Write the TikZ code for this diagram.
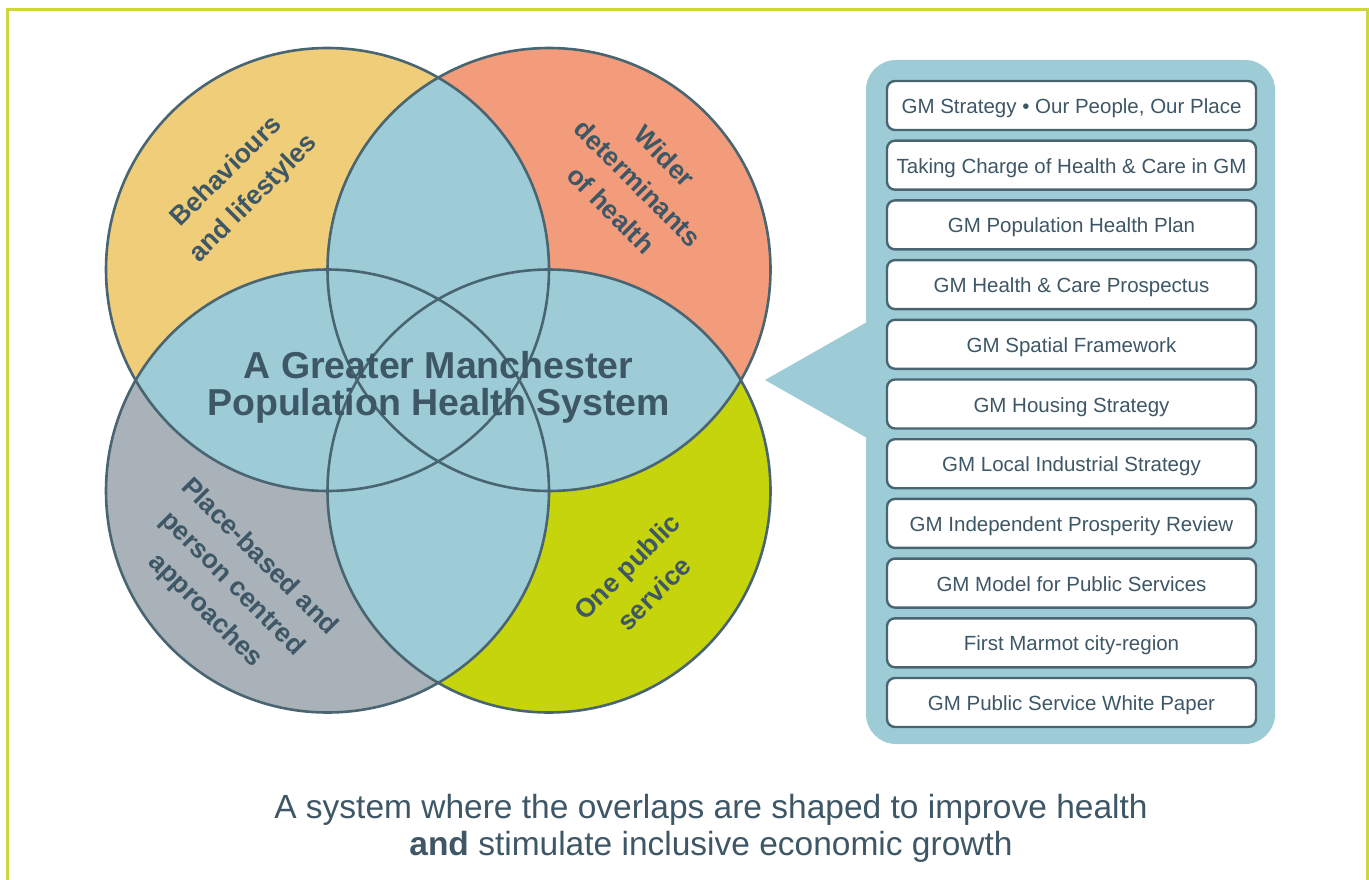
\documentclass[tikz,border=0pt]{standalone}
\usepackage{fontspec}
\setmainfont{Liberation Sans}
\definecolor{cyel}{HTML}{F0CD78}
\definecolor{corg}{HTML}{F29C7B}
\definecolor{cgry}{HTML}{AAB2B9}
\definecolor{cgrn}{HTML}{C6D40C}
\definecolor{cblu}{HTML}{9DCCD6}
\definecolor{cline}{HTML}{4A6572}
\definecolor{ctext}{HTML}{3E5766}
\definecolor{cframe}{HTML}{CDD63C}
\begin{document}
\begin{tikzpicture}[x=1pt,y=-1pt,
  venn/.style={draw=cline, line width=2.6pt},
  lbl/.style={text=ctext, font=\bfseries\fontsize{26.5}{38}\selectfont, align=center, inner sep=0pt},
  gmbox/.style={draw=cline, line width=2.4pt, fill=white, rounded corners=8pt,
    minimum width=369pt, minimum height=49pt, inner sep=0pt, text=ctext,
    font=\fontsize{20.5}{24}\selectfont, text height=20pt, text depth=4pt},
]
\useasboundingbox (0,0) rectangle (1369,880);
% frame
\draw[cframe, line width=3pt] (7,890) -- (7,9.5) -- (1367,9.5) -- (1367,890);
% circles
\coordinate (cA) at (327.5,269.5);
\coordinate (cB) at (549,269.5);
\coordinate (cC) at (327.5,491);
\coordinate (cD) at (549,491);
\def\R{221.5}
\fill[cyel] (cA) circle[radius=\R];
\fill[corg] (cB) circle[radius=\R];
\fill[cgry] (cC) circle[radius=\R];
\fill[cgrn] (cD) circle[radius=\R];
\begin{scope}
  \clip (cA) circle[radius=\R];
  \fill[cblu] (cB) circle[radius=\R];
  \fill[cblu] (cC) circle[radius=\R];
  \fill[cblu] (cD) circle[radius=\R];
\end{scope}
\begin{scope}
  \clip (cB) circle[radius=\R];
  \fill[cblu] (cC) circle[radius=\R];
  \fill[cblu] (cD) circle[radius=\R];
\end{scope}
\begin{scope}
  \clip (cC) circle[radius=\R];
  \fill[cblu] (cD) circle[radius=\R];
\end{scope}
\draw[venn] (cA) circle[radius=\R];
\draw[venn] (cB) circle[radius=\R];
\draw[venn] (cC) circle[radius=\R];
\draw[venn] (cD) circle[radius=\R];
% labels
\node[lbl, rotate=45] (lbeh) at (240.5,185.5) {Behaviours\\and lifestyles};
\node[lbl, rotate=-45] (lwid) at (638,183) {Wider\\determinants\\of health};
\node[lbl, rotate=-45] (lpla) at (232,584) {Place-based and\\person centred\\approaches};
\node[lbl, rotate=45] (lone) at (640.5,580) {One public\\service};
\node[text=ctext, font=\bfseries\fontsize{37.5}{37}\selectfont, align=center, inner sep=0pt] (title) at (438.5,387) {A Greater Manchester\\Population Health System};
% panel
\fill[cblu, rounded corners=30pt] (866,60) rectangle (1275,744);
\fill[cblu] (867,322) -- (765,380) -- (867,438) -- cycle;
\node[gmbox] (b1) at (1071.5,105.5) {GM Strategy • Our People, Our Place};
\node[gmbox] (b2) at (1071.5,165.2) {Taking Charge of Health \& Care in GM};
\node[gmbox] (b3) at (1071.5,224.9) {GM Population Health Plan};
\node[gmbox] (b4) at (1071.5,284.6) {GM Health \& Care Prospectus};
\node[gmbox] (b5) at (1071.5,344.3) {GM Spatial Framework};
\node[gmbox] (b6) at (1071.5,404.0) {GM Housing Strategy};
\node[gmbox] (b7) at (1071.5,463.7) {GM Local Industrial Strategy};
\node[gmbox] (b8) at (1071.5,523.4) {GM Independent Prosperity Review};
\node[gmbox] (b9) at (1071.5,583.1) {GM Model for Public Services};
\node[gmbox] (b10) at (1071.5,642.8) {First Marmot city-region};
\node[gmbox] (b11) at (1071.5,702.5) {GM Public Service White Paper};
% caption
\node[text=ctext, font=\fontsize{33.5}{37}\selectfont, align=center, inner sep=0pt] (cap) at (711,828.5)
  {A system where the overlaps are shaped to improve health\\\textbf{and} stimulate inclusive economic growth};
\end{tikzpicture}
\end{document}
